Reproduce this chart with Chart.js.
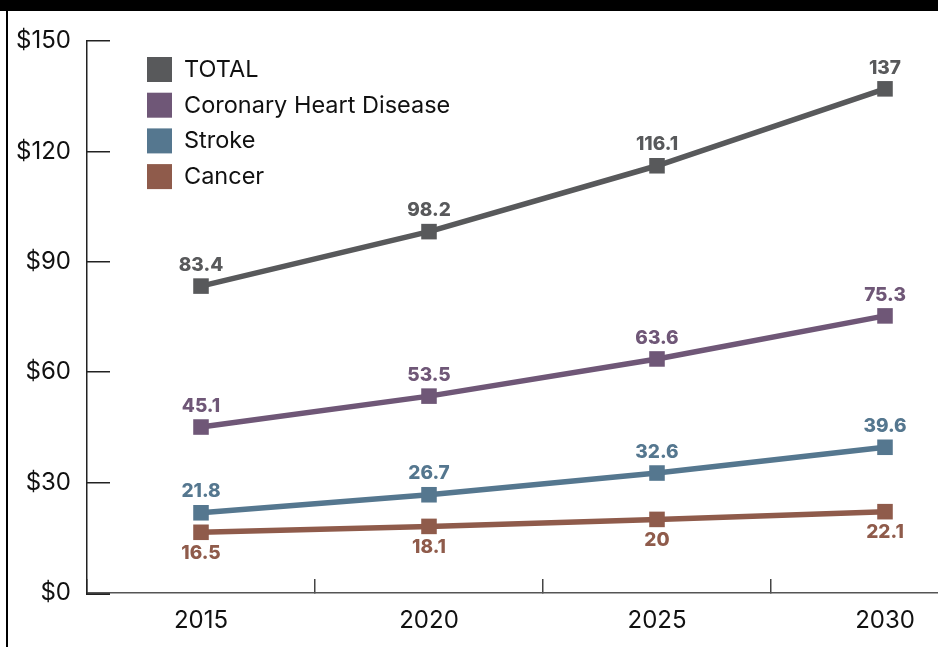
<!DOCTYPE html>
<html>
<head>
<meta charset="utf-8">
<title>Projected costs</title>
<script src="https://cdn.jsdelivr.net/npm/chart.js@4.4.1/dist/chart.umd.min.js"></script>
<style>
  html, body { margin: 0; padding: 0; background: #fff; overflow: hidden; }
  body { width: 938px; height: 647px; position: relative; }
  .wrap { position: absolute; left: 0; top: 0; width: 1010px; height: 647px; }
  .frame { position: absolute; left: 0; top: 0; right: 0; bottom: 0; border-top: 11px solid #000; pointer-events: none; }
  .frame::before { content: ""; position: absolute; left: 6px; top: 0; bottom: 0; width: 2px; background: #000; }
</style>
</head>
<body>
<div class="wrap"><canvas id="costChart"></canvas></div>
<div class="frame"></div>
<script>
const years = ["2015", "2020", "2025", "2030"];
const totalCost = [83.4, 98.2, 116.1, 137];
const coronaryCost = [45.1, 53.5, 63.6, 75.3];
const strokeCost = [21.8, 26.7, 32.6, 39.6];
const cancerCost = [16.5, 18.1, 20, 22.1];
const yTicks = [0, 30, 60, 90, 120, 150];

const FONT = "Inter, 'Liberation Sans', sans-serif";

function series(label, data, color, below) {
  return {
    label: label,
    data: data,
    borderColor: color,
    backgroundColor: color,
    borderWidth: 5.5,
    pointStyle: "rect",
    pointRadius: 11,
    pointBorderWidth: 0,
    pointBackgroundColor: color,
    labelBelow: below
  };
}

// value printed above (or below) every point, in the series colour
const valueLabels = {
  id: "valueLabels",
  afterDatasetsDraw(chart) {
    const ctx = chart.ctx;
    ctx.save();
    ctx.font = "800 19px " + FONT;
    ctx.textAlign = "center";
    ctx.textBaseline = "middle";
    chart.data.datasets.forEach((ds, i) => {
      const dy = ds.labelBelow ? 21 : -21;
      ctx.fillStyle = ds.borderColor;
      chart.getDatasetMeta(i).data.forEach((pt, j) => {
        ctx.fillText(String(ds.data[j]), pt.x, pt.y + dy);
      });
    });
    ctx.restore();
  }
};

// square-swatch legend inside the plot, top left
const boxLegend = {
  id: "boxLegend",
  afterDraw(chart) {
    const { ctx, chartArea } = chart;
    const x = chartArea.left + 60;
    const y0 = chartArea.top + 16;
    ctx.save();
    ctx.font = "400 23.5px " + FONT;
    ctx.textAlign = "left";
    ctx.textBaseline = "middle";
    chart.data.datasets.forEach((ds, i) => {
      const y = y0 + i * 35.7;
      ctx.fillStyle = ds.borderColor;
      ctx.fillRect(x, y, 25, 25);
      ctx.fillStyle = "#111";
      ctx.fillText(ds.label, x + 37, y + 13);
    });
    ctx.restore();
  }
};

new Chart(document.getElementById("costChart"), {
  type: "line",
  data: {
    labels: years,
    datasets: [
      series("TOTAL", totalCost, "#58595b", false),
      series("Coronary Heart Disease", coronaryCost, "#6f5777", false),
      series("Stroke", strokeCost, "#55778f", false),
      series("Cancer", cancerCost, "#8f5b4b", true)
    ]
  },
  options: {
    responsive: true,
    maintainAspectRatio: false,
    animation: false,
    layout: { padding: { top: 41, right: 9, bottom: 0, left: 0 } },
    plugins: {
      legend: { display: false },
      tooltip: { enabled: false }
    },
    scales: {
      x: {
        offset: true,
        border: { color: "#555", width: 1.5 },
        grid: { offset: true, drawOnChartArea: false, tickLength: -14, color: "#444", lineWidth: 1.5 },
        ticks: { padding: 27, color: "#111", font: { family: FONT, size: 24 } },
        afterFit(s) { s.height = 54; }
      },
      y: {
        min: 0,
        max: 150,
        afterBuildTicks(s) { s.ticks = yTicks.map(v => ({ value: v })); },
        border: { color: "#222", width: 1.5 },
        grid: {
          drawOnChartArea: false,
          tickLength: -23,
          color: "#222",
          lineWidth: c => (c.tick && c.tick.value === 0 ? 3 : 1.5)
        },
        ticks: { padding: 39, color: "#111", font: { family: FONT, size: 24 }, callback: v => "$" + v },
        afterFit(s) {
          s.width = 87;
          // the large tick padding only shifts labels sideways
          s.paddingTop = 12;
          s.paddingBottom = 12;
        }
      }
    }
  },
  plugins: [valueLabels, boxLegend]
});
</script>
</body>
</html>
